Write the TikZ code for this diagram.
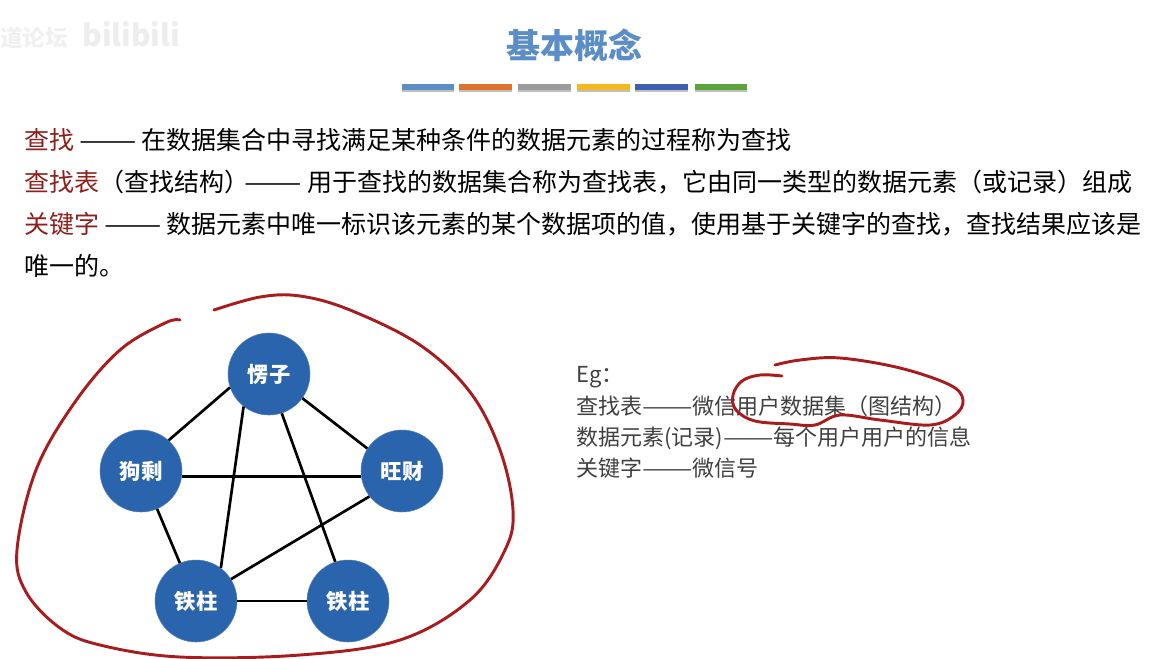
\documentclass[tikz,border=0pt]{standalone}
\usepackage{fontspec}
\usepackage{xcolor}
\usepackage{graphicx}
\setmainfont{Noto Sans CJK SC}
\definecolor{titleblue}{HTML}{5B8EC6}
\definecolor{keyred}{HTML}{8E1F1B}
\definecolor{inkred}{HTML}{A81C1E}
\definecolor{nodeblue}{HTML}{2A64AC}
\definecolor{textgray}{HTML}{404040}
\definecolor{barorange}{HTML}{E0722A}
\definecolor{bargray}{HTML}{9C9C9C}
\definecolor{baryellow}{HTML}{F5B81F}
\definecolor{barblue}{HTML}{3F5FB0}
\definecolor{bargreen}{HTML}{5CA33C}
\newcommand{\keyw}[1]{\textcolor{keyred}{#1}}
\newcommand{\ldash}{\scalebox{1.37}[1]{——}}
\usetikzlibrary{shadows}
\tikzset{
  person/.style={circle,fill=nodeblue,draw=nodeblue!80!white,text=white,minimum size=61.5pt,inner sep=0pt,font=\fontsize{16}{18}\selectfont\bfseries},
  bar/.style={rectangle,minimum height=4.5pt,inner sep=0pt,drop shadow={shadow xshift=0pt,shadow yshift=-1.3pt,opacity=.5}},
  para/.style={anchor=base west,inner sep=0pt,text=black,font=\fontsize{18.75}{22}\selectfont},
  egline/.style={anchor=base west,inner sep=0pt,text=textgray,font=\fontsize{16.5}{20}\selectfont},
  edge/.style={-,draw=black,line width=2pt},
  scribble/.style={draw=inkred,line width=2.2pt,line cap=round,line join=round}
}
\begin{document}
\begin{tikzpicture}[x=0.75pt,y=-0.75pt]
 \useasboundingbox (0,0) rectangle (1167,658);

 \draw (0,38)  node[anchor=west,inner sep=0pt,text=black!6,font=\fontsize{17}{20}\selectfont\bfseries] (mark1) {道论坛};
 \draw (82,34) node[anchor=west,inner sep=0pt,text=black!7,font=\fontsize{22.5}{30}\selectfont\bfseries] (mark2) {bilibili};

 \draw (574,45) node[text=titleblue,inner sep=0pt,font=\fontsize{25.5}{30}\selectfont\bfseries] (title) {基本概念};

 \draw (428,87) node[bar,fill=titleblue,minimum width=39pt]  (bar1) {};
 \draw (485.5,87) node[bar,fill=barorange,minimum width=39.5pt] (bar2) {};
 \draw (544.5,87) node[bar,fill=bargray,minimum width=39.5pt]      (bar3) {};
 \draw (603.5,87) node[bar,fill=baryellow,minimum width=39.5pt] (bar4) {};
 \draw (661.5,87) node[bar,fill=barblue,minimum width=39.5pt] (bar5) {};
 \draw (721,87) node[bar,fill=bargreen,minimum width=39pt] (bar6) {};

 \draw (24,149) node[para] (line1) {\keyw{查找} \ldash{} \hspace{-.7pt}在数据集合中寻找满足某种条件的数据元素的过程称为查找};
 \draw (24,191) node[para] (line2) {\keyw{查找表}（查找结构）\hspace{-3.6pt}\ldash{} 用于查找的数据集合称为查找表，它由同一类型的数据元素（或记录）组成};
 \draw (24,233) node[para] (line3) {\keyw{关键字} \ldash{} \hspace{-1.4pt}数据元素中唯一标识该元素的某个数据项的值，使用基于关键字的查找，查找结果应该是};
 \draw (24,275) node[para] (line4) {唯一的。};

 \draw (576,382) node[egline] (eg0) {Eg：};
 \draw (576,414) node[egline] (eg1) {查找表\ldash{}微信用户数据集（图结构）};
 \draw (576,445) node[egline] (eg2) {数据元素(记录)\ldash{}每个用户用户的信息};
 \draw (576,476) node[egline] (eg3) {关键字\ldash{}微信号};

 \draw (269,374) node[person] (A) {愣子};
 \draw (141,471) node[person] (B) {狗剩};
 \draw (402,471) node[person] (C) {旺财};
 \draw (196,601) node[person] (D) {铁柱};
 \draw (348,601) node[person] (E) {铁柱};

 \draw[edge] (A.199) -- (B.48);
 \draw[edge] (A.-36) -- (C.147);
 \draw[edge] (A.232) -- (D.53);
 \draw[edge] (A.-72) -- (E.108);
 \draw[edge] (B.-8) -- (C.188);
 \draw[edge] (B.-67) -- (D.113);
 \draw[edge] (C.218) -- (D.32);
 \draw[edge] (D.east) -- (E.west);

 \draw[scribble] plot[smooth,tension=.6] coordinates {(180,320) (165,323) (120,350) (75,402) (36,470) (17,550) (26,592) (60,628) (100,645) (180,657) (300,655) (400,640) (470,600) (505,550) (513,510) (500,450) (470,392) (420,345) (350,310) (300,296) (260,297) (214,310)};

 \draw[scribble] plot[smooth,tension=.6] coordinates {(782,376) (760,375) (742,381) (733,395) (736,410) (755,421) (790,424) (815,425) (840,415) (880,420) (930,425) (955,415) (963,400) (950,385) (900,368) (840,358) (800,360) (775,365)};
\end{tikzpicture}
\end{document}
